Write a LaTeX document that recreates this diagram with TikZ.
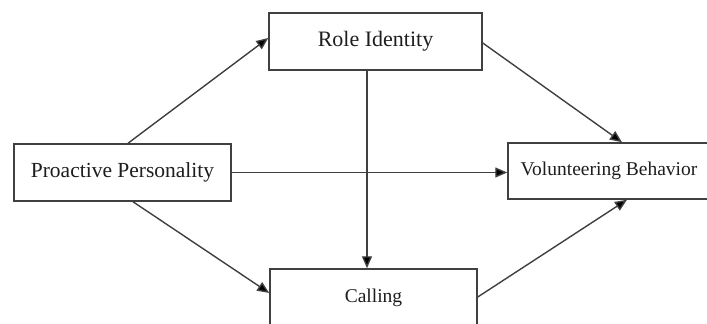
\documentclass[tikz,border=0pt]{standalone}
\usepackage{fontspec}
\setmainfont{Liberation Serif}
\usetikzlibrary{arrows.meta,calc}
\definecolor{linegray}{HTML}{404040}
\definecolor{textgray}{HTML}{1E1E1E}
\tikzset{
  box/.style={draw=linegray, line width=1.5pt, fill=white, rectangle, inner sep=0pt, text=textgray},
  conn/.style={draw=linegray, line width=1.4pt, -{Triangle[length=12pt,width=10pt,fill=black]}}
}
\begin{document}
\begin{tikzpicture}[x=1pt,y=-1pt]
\useasboundingbox (0,0) rectangle (707,324);
\clip (0,0) rectangle (707,324);
\fill[white] (0,0) rectangle (707,324);
\node[box, minimum width=217pt, minimum height=57pt, font=\fontsize{21.5}{24}\selectfont] (P) at (122.5,172.5) {Proactive Personality};
\node[box, minimum width=213pt, minimum height=57pt, font=\fontsize{22}{25}\selectfont] (R) at (375.5,41.5) {Role Identity};
\node[box, minimum width=207pt, minimum height=57pt, font=\fontsize{19.5}{22}\selectfont] (C) at (373.5,297.5) {Calling};
\node[box, minimum width=202pt, minimum height=56pt, font=\fontsize{19.5}{22}\selectfont] (V) at (609,171) {Volunteering Behavior};
\draw[conn] ([xshift=5.5pt]P.north) -- ([yshift=3.5pt]R.west);
\draw[conn] ([xshift=10.5pt]P.south) -- ([yshift=4.5pt]C.west);
\draw[conn] (P.east) -- (P.east -| V.west);
\draw[conn] ([xshift=-8.5pt]R.south) -- ([xshift=-8.5pt]R.south |- C.north);
\draw[conn] ([yshift=-1.5pt]R.east) -- ([xshift=13pt]V.north);
\draw[conn] ([yshift=0.5pt]C.east) -- ([xshift=18pt]V.south);
\end{tikzpicture}
\end{document}
